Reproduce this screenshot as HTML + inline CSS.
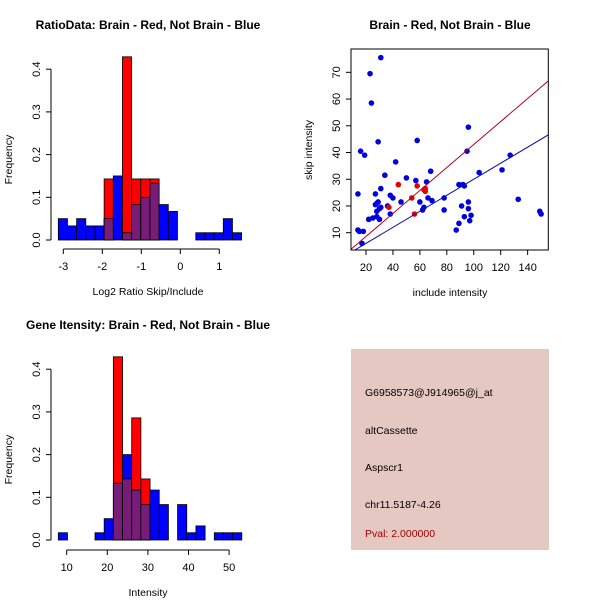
<!DOCTYPE html>
<html><head><meta charset="utf-8"><style>
body{margin:0;background:#fff}
svg{display:block;font-family:"Liberation Sans",sans-serif}
</style></head><body>
<svg id="c" width="600" height="600" viewBox="0 0 600 600">
<rect x="351" y="349" width="198" height="201" fill="#e6c8c2"/>
<g font-size="10.5" fill="#000">
<text x="365" y="396">G6958573@J914965@j_at</text>
<text x="365" y="434">altCassette</text>
<text x="365" y="471">Aspscr1</text>
<text x="365" y="508">chr11.5187-4.26</text>
<text x="365" y="537" fill="#a00000">Pval: 2.000000</text>
</g>
</svg>
<script>
// Ratio histogram
const ratioStart = -3.128, ratioWidth = 0.235;
const ratioBlue = [0.05,0.033,0.05,0.033,0.033,0.05,0.15,0.017,0.083,0.1,0.133,0.083,0.067,0,0,0.017,0.017,0.017,0.05,0.017];
const ratioRed  = [0,0,0,0,0,0.143,0,0.429,0.143,0.143,0.143,0,0,0,0,0,0,0,0,0];
const ratioXTicks = [-3,-2,-1,0,1];
// Intensity histogram
const intStart = 7.93, intWidth = 2.26;
const intBlue = [0.017,0,0,0,0.017,0.05,0.133,0.2,0.117,0.083,0.117,0.083,0,0.083,0.017,0.033,0,0.017,0.017,0.017];
const intRed  = [0,0,0,0,0,0,0.429,0.143,0.286,0.143,0,0,0,0,0,0,0,0,0,0];
const intXTicks = [10,20,30,40,50];
const freqTicks = ["0.0","0.1","0.2","0.3","0.4"];
// Scatter
const includeBlue = [31,23,24,29,16,19,14,14,15,18,17,22,25,27,28,29,27,28,30,31,30,28,31,34,36,38,40,38,42,46,50,57,58,60,62,63,65,66,68,69,78,78,87,89,89,91,92,93,93,95,96,96,96,97,98,104,121,127,133,149,150];
const skipBlue    = [75.5,69.5,58.5,44,40.5,39,24.5,11,10.5,10.5,6,15,15.5,24.5,21,21.5,20.5,18,19,19.5,15,16,26.5,31.5,20,24,23,17,36.5,21.5,30.5,29.5,44.5,21.5,18.5,19.5,29,23,33,22,18.5,23,11,13.5,28,20,28,16,27.5,40.5,49.5,21.5,19,14.5,16.5,32.5,33.5,39,22.5,18,17];
const includeRed = [37,44,54,56,58,64,64,63];
const skipRed    = [19.5,28,23,17,27.5,26.5,25.5,26];
const redSlope = 0.43, blueSlope = 0.30;
const scXTicks = [20,40,60,80,100,120,140];
const scYTicks = [10,20,30,40,50,60,70];

const svg = document.getElementById('c');
const NS = 'http://www.w3.org/2000/svg';
function mk(tag, attrs, parent){const e=document.createElementNS(NS,tag);for(const k in attrs)e.setAttribute(k,attrs[k]);(parent||svg).appendChild(e);return e;}
function txt(x,y,s,size,extra){const t=mk('text',Object.assign({x:x,y:y,'font-size':size,'text-anchor':'middle'},extra||{}));t.textContent=s;return t;}

function hist(o){
  const g = mk('g',{});
  
  
  const sx = v => o.x0 + (v - o.xv0) * o.kx;
  const sy = v => o.y0 - v * o.ky;
  for(let i=0;i<o.blue.length;i++){
    const l = sx(o.start + i*o.width), r = sx(o.start + (i+1)*o.width);
    const b=o.blue[i], rd=o.red[i], m=Math.min(b,rd);
    if(b>0){const e=mk('rect',{x:l,y:sy(b),width:r-l,height:sy(0)-sy(b),fill:'#0000ff',stroke:'#000','stroke-width':0.8},g);
      
      }
    if(rd>0){const e=mk('rect',{x:l,y:sy(rd),width:r-l,height:sy(0)-sy(rd),fill:'#ff0000',stroke:'#000','stroke-width':0.8},g);
      
      }
    if(m>0){const e=mk('rect',{x:l,y:sy(m),width:r-l,height:sy(0)-sy(m),fill:'#771d77',stroke:'#000','stroke-width':0.8},g);
      
      }
  }
  mk('line',{x1:o.yaxX,y1:sy(0),x2:o.yaxX,y2:sy(0.4),stroke:'#000'},g);
  freqTicks.forEach(t=>{const v=parseFloat(t);
    mk('line',{x1:o.yaxX-5,y1:sy(v),x2:o.yaxX,y2:sy(v),stroke:'#000'},g);
    txt(0,0,t,11,{transform:`translate(${o.yaxX-11},${sy(v)}) rotate(-90)`});});
  mk('line',{x1:sx(o.xt[0]),y1:o.xaxY,x2:sx(o.xt[o.xt.length-1]),y2:o.xaxY,stroke:'#000'},g);
  o.xt.forEach(t=>{mk('line',{x1:sx(t),y1:o.xaxY,x2:sx(t),y2:o.xaxY+5,stroke:'#000'},g);
    txt(sx(t),o.xaxY+21,String(t),11);});
  txt(148,o.xaxY+46,o.xlab,10.5);
  txt(0,0,'Frequency',10.5,{transform:`translate(12,${(sy(0)+sy(0.4))/2+5}) rotate(-90)`});
  txt(148,o.titleY,o.title,12,{'font-weight':'bold'});
}
hist({name:'ratio-histogram',start:ratioStart,width:ratioWidth,blue:ratioBlue,red:ratioRed,x0:180.3,xv0:0,kx:39,y0:240,ky:427,yaxX:51,xaxY:249,xt:ratioXTicks,xlab:'Log2 Ratio Skip/Include',title:'RatioData: Brain - Red, Not Brain - Blue',titleY:29});
hist({name:'intensity-histogram',start:intStart,width:intWidth,blue:intBlue,red:intRed,x0:66.7,xv0:10,kx:4.06,y0:540,ky:427,yaxX:51,xaxY:550,xt:intXTicks,xlab:'Intensity',title:'Gene Itensity: Brain - Red, Not Brain - Blue',titleY:329});

(function(){
  const g=mk('g',{});
  
  
  const L=351,R=548.3,T=49,B=250;
  const sx=v=>366+(v-20)*1.347, sy=v=>232.7-(v-10)*2.673;
  const ix=x=>20+(x-366)/1.347;
  const clip=mk('clipPath',{id:'sc'},g);mk('rect',{x:L,y:T,width:R-L,height:B-T},clip);
  const pg=mk('g',{'clip-path':'url(#sc)'},g);
  includeBlue.forEach((v,i)=>{const c=mk('circle',{cx:sx(v),cy:sy(skipBlue[i]),r:2.8,fill:'#0000dd'},pg);
    
    });
  includeRed.forEach((v,i)=>{const c=mk('circle',{cx:sx(v),cy:sy(skipRed[i]),r:2.8,fill:'#ee0000'},pg);
    
    });
  const a=ix(L),b=ix(R);
  const rl=mk('line',{x1:sx(a),y1:sy(redSlope*a),x2:sx(b),y2:sy(redSlope*b),stroke:'#b00020','stroke-width':1},pg);
  
  
  const bl=mk('line',{x1:sx(a),y1:sy(blueSlope*a),x2:sx(b),y2:sy(blueSlope*b),stroke:'#1010a0','stroke-width':1},pg);
  
  
  mk('rect',{x:L,y:T,width:R-L,height:B-T,fill:'none',stroke:'#000'},g);
  scXTicks.forEach(t=>{mk('line',{x1:sx(t),y1:B,x2:sx(t),y2:B+5,stroke:'#000'},g);txt(sx(t),B+21,String(t),11);});
  scYTicks.forEach(t=>{mk('line',{x1:L-5,y1:sy(t),x2:L,y2:sy(t),stroke:'#000'},g);
    txt(0,0,String(t),11,{transform:`translate(${L-11},${sy(t)}) rotate(-90)`});});
  txt(450,B+46,'include intensity',10.5);
  txt(0,0,'skip intensity',10.5,{transform:`translate(312,150) rotate(-90)`});
  txt(450,29,'Brain - Red, Not Brain - Blue',12,{'font-weight':'bold'});
})();
</script>
</body></html>
